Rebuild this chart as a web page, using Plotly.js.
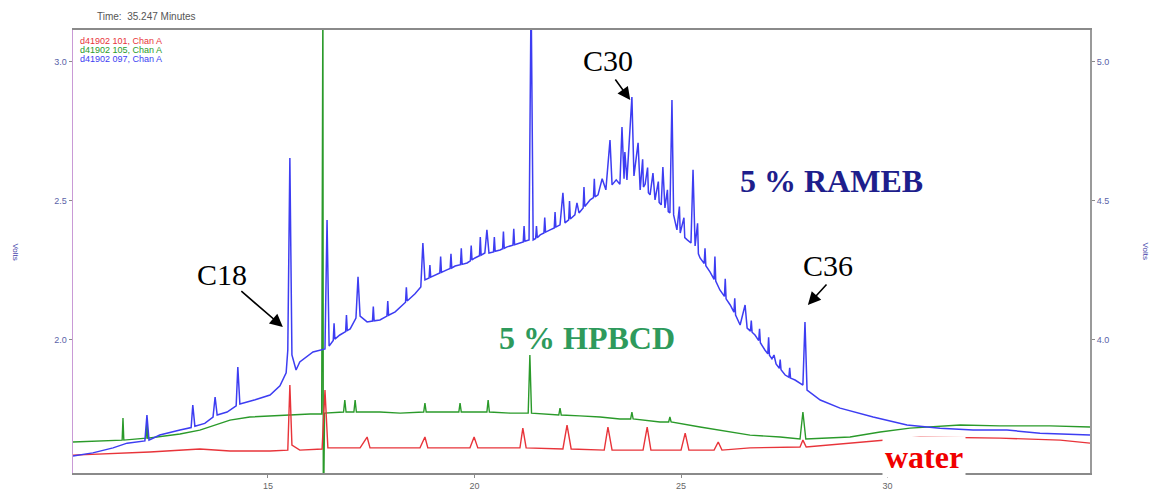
<!DOCTYPE html>
<html>
<head>
<meta charset="utf-8">
<script src="https://cdn.plot.ly/plotly-3.0.1.min.js"></script>
<style>
  html, body { margin: 0; padding: 0; background: #ffffff; }
  #chart { width: 1158px; height: 492px; }
</style>
</head>
<body>
<div id="chart"></div>
<script>
// Retention time (min) and detector signal for the three runs.
// 5 % RAMEB extract, read against the right-hand axis.
const timeRameb = [
  10.28, 10.76, 11.25, 11.59, 12.02, 12.07, 12.12, 12.38, 12.87, 13.14,
  13.18, 13.23, 13.47, 13.67, 13.72, 13.77, 14.01, 14.23, 14.27, 14.32,
  14.69, 15.05, 15.29, 15.44, 15.48, 15.53, 15.58, 15.68, 15.77, 16.09,
  16.38, 16.43, 16.48, 16.58, 16.60, 16.62, 16.74, 16.88, 16.90, 16.92,
  16.99, 17.13, 17.18, 17.23, 17.40, 17.53, 17.55, 17.57, 17.71, 17.88,
  17.90, 17.92, 18.08, 18.20, 18.33, 18.35, 18.37, 18.56, 18.70, 18.75,
  18.80, 18.90, 18.92, 18.94, 19.04, 19.16, 19.18, 19.20, 19.33, 19.41,
  19.43, 19.45, 19.53, 19.66, 19.68, 19.70, 19.82, 19.90, 19.92, 19.94,
  20.01, 20.12, 20.14, 20.16, 20.25, 20.30, 20.35, 20.46, 20.48, 20.50,
  20.62, 20.68, 20.70, 20.72, 20.79, 20.93, 20.95, 20.97, 21.10, 21.18,
  21.20, 21.22, 21.32, 21.37, 21.42, 21.48, 21.50, 21.52, 21.59, 21.68,
  21.70, 21.72, 21.83, 21.93, 21.95, 21.97, 22.07, 22.14, 22.19, 22.28,
  22.30, 22.32, 22.43, 22.48, 22.53, 22.63, 22.65, 22.67, 22.80, 22.88,
  22.90, 22.92, 22.99, 23.09, 23.18, 23.28, 23.33, 23.43, 23.52, 23.57,
  23.62, 23.64, 23.69, 23.81, 23.86, 23.96, 24.01, 24.07, 24.09, 24.13,
  24.19, 24.21, 24.25, 24.32, 24.37, 24.45, 24.47, 24.52, 24.56, 24.61,
  24.67, 24.69, 24.73, 24.78, 24.82, 24.90, 24.96, 24.98, 25.07, 25.09,
  25.15, 25.24, 25.29, 25.34, 25.40, 25.42, 25.46, 25.56, 25.58, 25.60,
  25.70, 25.80, 25.82, 25.84, 25.94, 26.05, 26.07, 26.09, 26.19, 26.28,
  26.30, 26.32, 26.43, 26.55, 26.60, 26.68, 26.70, 26.72, 26.79, 26.88,
  26.90, 26.92, 27.03, 27.10, 27.12, 27.14, 27.20, 27.25, 27.30, 27.38,
  27.40, 27.42, 27.52, 27.61, 27.63, 27.65, 27.76, 27.95, 28.00, 28.05,
  28.37, 28.85, 29.65, 30.47, 31.27, 32.07, 32.89, 33.69, 34.90
];
const signalRameb = [
  3.583, 3.594, 3.612, 3.629, 3.637, 3.730, 3.640, 3.658, 3.676, 3.685,
  3.766, 3.690, 3.700, 3.723, 3.795, 3.730, 3.741, 3.763, 3.903, 3.770,
  3.785, 3.802, 3.835, 3.882, 3.964, 4.655, 3.946, 3.892, 3.921, 3.957,
  3.968, 4.432, 3.978, 3.998, 4.060, 4.003, 4.018, 4.030, 4.090, 4.034,
  4.040, 4.079, 4.227, 4.086, 4.065, 4.068, 4.120, 4.069, 4.072, 4.086,
  4.140, 4.089, 4.101, 4.119, 4.136, 4.190, 4.140, 4.166, 4.191, 4.349,
  4.216, 4.223, 4.270, 4.226, 4.234, 4.241, 4.300, 4.243, 4.252, 4.257,
  4.310, 4.259, 4.266, 4.271, 4.330, 4.272, 4.277, 4.285, 4.340, 4.288,
  4.295, 4.303, 4.370, 4.305, 4.313, 4.396, 4.313, 4.317, 4.370, 4.319,
  4.324, 4.328, 4.390, 4.330, 4.335, 4.341, 4.400, 4.343, 4.349, 4.353,
  4.410, 4.355, 4.360, 5.250, 4.360, 4.365, 4.410, 4.368, 4.378, 4.385,
  4.440, 4.388, 4.396, 4.403, 4.460, 4.406, 4.414, 4.529, 4.421, 4.432,
  4.500, 4.435, 4.450, 4.493, 4.457, 4.475, 4.550, 4.480, 4.504, 4.512,
  4.580, 4.515, 4.522, 4.580, 4.540, 4.719, 4.558, 4.576, 4.560, 4.766,
  4.580, 4.676, 4.576, 4.874, 4.590, 4.709, 4.540, 4.650, 4.550, 4.560,
  4.620, 4.530, 4.522, 4.600, 4.504, 4.570, 4.495, 4.486, 4.622, 4.475,
  4.540, 4.462, 4.457, 4.863, 4.450, 4.396, 4.480, 4.385, 4.440, 4.368,
  4.360, 4.349, 4.612, 4.338, 4.420, 4.310, 4.295, 4.275, 4.330, 4.267,
  4.245, 4.218, 4.300, 4.212, 4.180, 4.157, 4.220, 4.148, 4.126, 4.100,
  4.150, 4.090, 4.054, 4.126, 4.043, 4.032, 4.070, 4.028, 4.018, 3.998,
  4.040, 3.990, 3.964, 3.950, 4.010, 3.945, 3.932, 3.946, 3.914, 3.898,
  3.930, 3.893, 3.874, 3.866, 3.900, 3.863, 3.856, 3.838, 4.065, 3.820,
  3.784, 3.755, 3.723, 3.694, 3.683, 3.676, 3.676, 3.665, 3.658
];

// 5 % HPBCD extract, left-hand axis.
const timeHpbcd = [
  10.28, 10.93, 11.47, 11.49, 11.51, 12.05, 12.07, 12.09,
  12.87, 13.35, 13.72, 14.08, 14.56, 15.05, 15.53, 16.02,
  16.30, 16.33, 16.34, 16.37, 16.83, 16.86, 16.89, 17.08, 17.11, 17.14,
  17.71, 18.20, 18.77, 18.80, 18.83, 19.62, 19.65, 19.68,
  20.30, 20.33, 20.36, 20.86, 21.30, 21.34, 21.38, 22.04, 22.07, 22.10,
  22.55, 23.04, 23.52, 23.78, 23.81, 23.84, 24.49, 24.70, 24.73, 24.76,
  25.46, 25.94, 26.67, 27.40, 27.88, 27.95, 28.02,
  29.09, 29.82, 30.54, 31.76, 32.72, 33.93, 34.90
];
const signalHpbcd = [
  1.633, 1.637, 1.640, 1.719, 1.640, 1.647, 1.712, 1.647,
  1.662, 1.676, 1.694, 1.712, 1.723, 1.727, 1.730, 1.734,
  1.734, 3.300, 1.300, 1.737, 1.741, 1.784, 1.741, 1.741, 1.784, 1.741,
  1.741, 1.737, 1.741, 1.773, 1.741, 1.741, 1.773, 1.741,
  1.741, 1.784, 1.741, 1.737, 1.737, 1.946, 1.737, 1.730, 1.755, 1.730,
  1.727, 1.723, 1.716, 1.716, 1.741, 1.716, 1.705, 1.705, 1.723, 1.705,
  1.687, 1.676, 1.658, 1.651, 1.644, 1.741, 1.644,
  1.651, 1.669, 1.683, 1.694, 1.691, 1.691, 1.687
];

// Water blank, left-hand axis.
const timeWater = [
  10.28, 11.17, 12.14, 13.35, 14.08, 15.05,
  15.48, 15.53, 15.58, 15.77, 16.31, 16.38, 16.45,
  17.23, 17.40, 17.47, 18.68, 18.80, 18.87, 19.89, 19.99, 20.08,
  21.10, 21.17, 21.25, 22.14, 22.24, 22.34, 23.14, 23.23, 23.33,
  24.08, 24.18, 24.27, 25.00, 25.10, 25.19, 25.80, 25.90, 25.99,
  26.67, 27.88, 27.95, 28.03,
  29.09, 29.82, 30.79, 32.72, 34.18, 34.90
];
const signalWater = [
  1.586, 1.590, 1.597, 1.608, 1.601, 1.601,
  1.604, 1.838, 1.622, 1.604, 1.608, 1.820, 1.612,
  1.612, 1.651, 1.612, 1.612, 1.651, 1.612, 1.612, 1.651, 1.612,
  1.612, 1.683, 1.612, 1.608, 1.694, 1.608, 1.604, 1.687, 1.604,
  1.604, 1.687, 1.604, 1.604, 1.665, 1.604, 1.604, 1.633, 1.604,
  1.612, 1.615, 1.640, 1.615,
  1.629, 1.640, 1.651, 1.647, 1.640, 1.629
];

// Axis ticks
const timeTicks = [15, 20, 25, 30];
const leftTicks = [2.0, 2.5, 3.0];
const leftTickText = ['2.0', '2.5', '3.0'];
const rightTicks = [4.0, 4.5, 5.0];
const rightTickText = ['4.0', '4.5', '5.0'];

// Run labels and peak labels
const runLabels = ['d41902 101, Chan A', 'd41902 105, Chan A', 'd41902 097, Chan A'];
const headerText = 'Time:  35.247 Minutes';
const peakLabels = ['C18', 'C30', 'C36'];
const peakTimes = [15.36, 23.77, 28.07];
const peakSignals = [4.047, 4.863, 4.126];

const serif = 'Liberation Serif, Times New Roman, serif';
const sans = 'Liberation Sans, Arial, sans-serif';

const traces = [
  {
    x: timeHpbcd, y: signalHpbcd, type: 'scatter', mode: 'lines',
    line: { color: '#2a9a2a', width: 1.4 }, yaxis: 'y', hoverinfo: 'skip'
  },
  {
    x: timeWater, y: signalWater, type: 'scatter', mode: 'lines',
    line: { color: '#e8343a', width: 1.4 }, yaxis: 'y', hoverinfo: 'skip'
  },
  {
    x: timeRameb, y: signalRameb, type: 'scatter', mode: 'lines',
    line: { color: '#3d3df2', width: 1.5 }, yaxis: 'y2', hoverinfo: 'skip'
  }
];

const tickFont = { family: sans, size: 9, color: '#5a63a8' };

// Text placed in plot-fraction coordinates, centred on its anchor
function label(x, y, text, font, extra) {
  return Object.assign({
    xref: 'paper', yref: 'paper', x: x, y: y, text: text, showarrow: false,
    xanchor: 'center', yanchor: 'middle', font: font
  }, extra || {});
}
function pointer(i, ax, ay) {
  return {
    xref: 'x', yref: 'y2', x: peakTimes[i], y: peakSignals[i], ax: ax, ay: ay, text: '',
    showarrow: true, arrowhead: 2, arrowsize: 1.6, arrowwidth: 1.6, arrowcolor: '#000'
  };
}

const annotations = [
  label(0.022, 1.03, headerText, { family: sans, size: 10, color: '#555' }, { xanchor: 'left' }),
  label(0.005, 0.975, runLabels[0], { family: sans, size: 9, color: '#e8343a' }, { xanchor: 'left' }),
  label(0.005, 0.955, runLabels[1], { family: sans, size: 9, color: '#2a9a2a' }, { xanchor: 'left' }),
  label(0.005, 0.935, runLabels[2], { family: sans, size: 9, color: '#3d3df2' }, { xanchor: 'left' }),
  label(-0.057, 0.50, 'Volts', { family: sans, size: 8, color: '#3d3da8' }, { textangle: 90 }),
  label(1.055, 0.50, 'Volts', { family: sans, size: 8, color: '#3d3da8' }, { textangle: 90 }),

  // Labelled alkane peaks
  label(0.1465, 0.447, peakLabels[0], { family: serif, size: 30, color: '#000' }),
  label(0.526, 0.932, peakLabels[1], { family: serif, size: 30, color: '#000' }),
  label(0.742, 0.4695, peakLabels[2], { family: serif, size: 30, color: '#000' }),
  pointer(0, -43, -37),
  pointer(1, -16, -22),
  pointer(2, 20, -22),

  // Run names
  label(0.746, 0.659, '<b>5 % RAMEB</b>', { family: serif, size: 32, color: '#1e1e8c' }),
  label(0.5054, 0.305, '<b>5 % HPBCD</b>', { family: serif, size: 32, color: '#2e9a5c' }),
  label(0.837, 0.036, '<b>water</b>', { family: serif, size: 32, color: '#f00000' },
    { bgcolor: '#ffffff', borderpad: 2 })
];

const layout = {
  width: 1158, height: 492,
  margin: { l: 73, r: 68, t: 30, b: 19, pad: 0 },
  paper_bgcolor: '#ffffff', plot_bgcolor: '#ffffff',
  showlegend: false,
  xaxis: {
    range: [10.28, 34.9], tickvals: timeTicks, ticktext: timeTicks.map(String),
    showgrid: false, zeroline: false, showline: true, mirror: true,
    linecolor: '#8a8a8a', linewidth: 2, ticks: 'outside', ticklen: 3, tickcolor: '#8a8a8a',
    tickfont: { family: sans, size: 9, color: '#666' }, automargin: false
  },
  yaxis: {
    range: [1.5216, 3.115], tickvals: leftTicks, ticktext: leftTickText,
    showgrid: false, zeroline: false, showline: true, linecolor: '#c99ad6', linewidth: 1.5,
    ticks: 'outside', ticklen: 3, tickcolor: '#8a8a8a', tickfont: tickFont, automargin: false
  },
  yaxis2: {
    range: [3.5216, 5.115], tickvals: rightTicks, ticktext: rightTickText,
    overlaying: 'y', side: 'right',
    showgrid: false, zeroline: false, showline: true, linecolor: '#9a9a9a', linewidth: 2,
    ticks: 'outside', ticklen: 3, tickcolor: '#8a8a8a', tickfont: tickFont, automargin: false
  },
  annotations: annotations
};

Plotly.newPlot('chart', traces, layout, { staticPlot: true, displayModeBar: false });
</script>
</body>
</html>
